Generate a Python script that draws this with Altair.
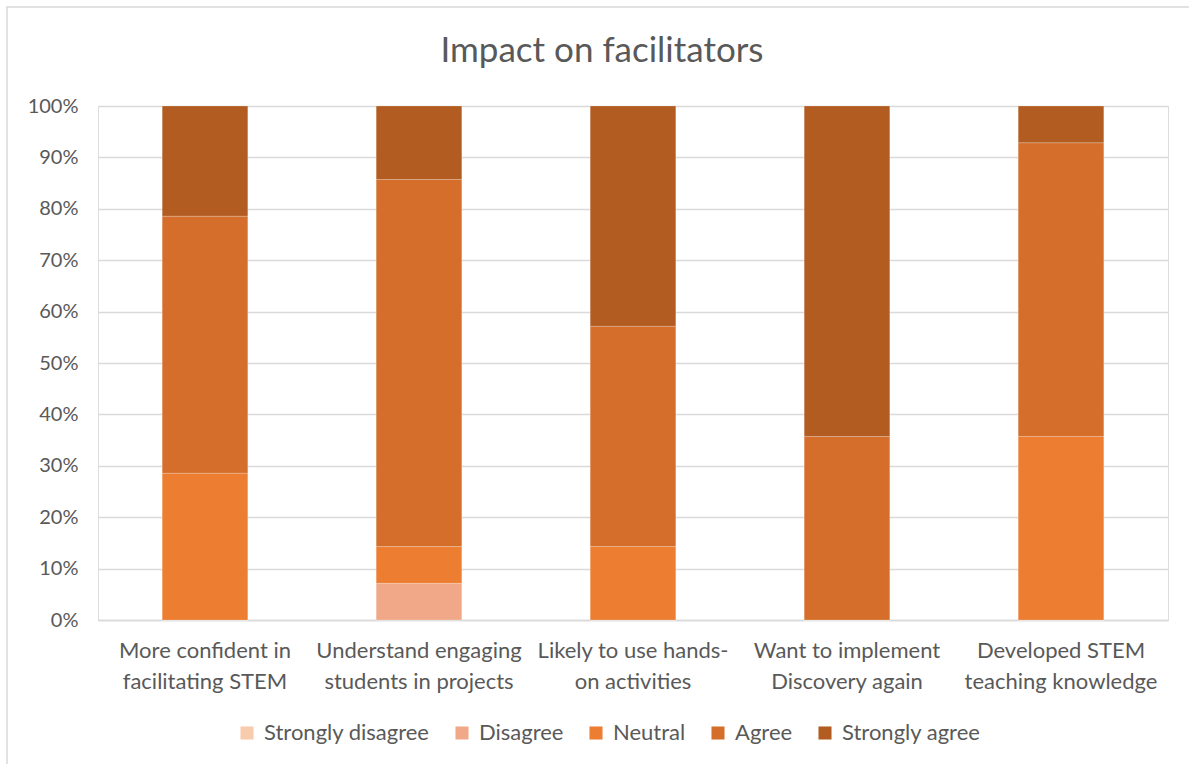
import altair as alt
import pandas as pd

categories = [
    "More confident in facilitating STEM",
    "Understand engaging students in projects",
    "Likely to use hands-on activities",
    "Want to implement Discovery again",
    "Developed STEM teaching knowledge",
]
label_lines = [
    "More confident in|facilitating STEM",
    "Understand engaging|students in projects",
    "Likely to use hands-|on activities",
    "Want to implement|Discovery again",
    "Developed STEM|teaching knowledge",
]
responses = ["Strongly disagree", "Disagree", "Neutral", "Agree", "Strongly agree"]
colors = ["#F8CBAD", "#F0A889", "#ED7D31", "#D46E2A", "#B35C21"]

# share of facilitators (%) per response, per statement
strongly_disagree = [0.0, 0.0, 0.0, 0.0, 0.0]
disagree = [0.0, 7.14, 0.0, 0.0, 0.0]
neutral = [28.57, 7.14, 14.29, 0.0, 35.71]
agree = [50.0, 71.43, 42.86, 35.71, 57.14]
strongly_agree = [21.43, 14.29, 42.86, 64.29, 7.14]

series = [strongly_disagree, disagree, neutral, agree, strongly_agree]
rows = []
for ri, (resp, vals) in enumerate(zip(responses, series)):
    for ci, cat in enumerate(categories):
        rows.append({"category": label_lines[ci], "response": resp, "order": ri, "value": vals[ci] / 100})
df = pd.DataFrame(rows)

W, H = 1070, 514
PL, PT = 98, 106
FONT = "Lato"

bars = alt.Chart(df).mark_bar(stroke="white", strokeWidth=0.5, strokeOpacity=0.4).encode(
    x=alt.X("category:N", sort=label_lines, title=None,
            scale=alt.Scale(paddingInner=0.6, paddingOuter=0.3),
            axis=alt.Axis(labelExpr="split(datum.label, '|')", labelAngle=0,
                          labelFont=FONT, labelFontSize=22, labelColor="#595959",
                          labelPadding=20, labelLineHeight=31, ticks=False,
                          labelLimit=0,
                          domainColor="#D9D9D9", domainWidth=1.5, grid=False)),
    y=alt.Y("value:Q", stack="zero", title=None,
            scale=alt.Scale(domain=[0, 1], nice=False),
            axis=alt.Axis(format=".0%", values=[i / 10 for i in range(11)],
                          labelFont=FONT, labelFontSize=20, labelColor="#595959",
                          labelPadding=20, ticks=False, domain=False,
                          gridColor="#D9D9D9", gridWidth=1.5)),
    color=alt.Color("response:N", sort=responses,
                    scale=alt.Scale(domain=responses, range=colors),
                    legend=alt.Legend(title=None, orient="none", direction="horizontal",
                                      legendX=138, legendY=616,
                                      symbolType="square", symbolSize=170,
                                      symbolStrokeWidth=0, labelLimit=0,
                                      labelFont=FONT, labelFontSize=22,
                                      labelColor="#595959", columnPadding=21,
                                      labelOffset=6)),
    order=alt.Order("order:Q"),
)

frame = alt.Chart(pd.DataFrame({"f": [0]})).mark_rect(
    fill=None, stroke="#D9D9D9", strokeWidth=1.5
).encode(
    x=alt.value(7 - PL), x2=alt.value(1189 - PL + 20),
    y=alt.value(7 - PT), y2=alt.value(764 - PT + 20),
)

chart = alt.layer(frame, bars).properties(
    width=W, height=H,
    autosize=alt.AutoSizeParams(type="none"),
    padding={"left": PL, "top": PT, "right": 1189 - PL - W, "bottom": 764 - PT - H},
    title=alt.TitleParams("Impact on facilitators", font=FONT, fontSize=35,
                          fontWeight="normal", color="#595959",
                          anchor="middle", dx=-31, offset=-63),
).configure_view(stroke=None).configure(background="white")

chart.save("out.html", embed_options={"renderer": "svg", "actions": False})
